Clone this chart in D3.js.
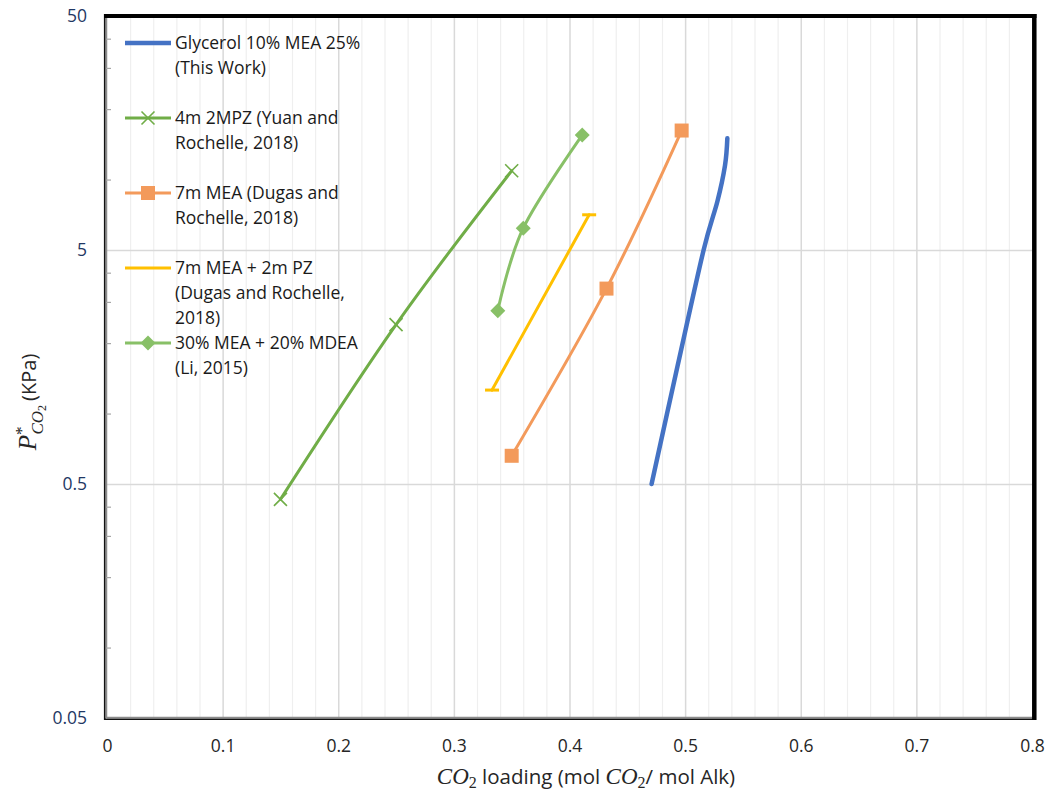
<!DOCTYPE html>
<html>
<head>
<meta charset="utf-8">
<script src="https://cdn.jsdelivr.net/npm/d3@7"></script>
<style>
  html, body { margin: 0; padding: 0; background: #fff; }
  svg { display: block; }
</style>
</head>
<body>
<svg id="chart" width="1052" height="800"></svg>
<script>
// CO2 loading (mol CO2 / mol alkalinity) and equilibrium CO2 partial pressure (kPa)
const glycerolLoading = [0.471, 0.4935, 0.516, 0.528, 0.5345, 0.5365];
const glycerolPressure = [0.5, 1.6, 5.0, 8.1, 11.5, 15.0];

const mpzLoading = [0.15, 0.25, 0.35];
const mpzPressure = [0.43, 2.4, 10.9];

const meaLoading = [0.35, 0.432, 0.497];
const meaPressure = [0.66, 3.42, 16.2];

const meaPzLoading = [0.333, 0.417];
const meaPzPressure = [1.26, 7.07];

const meaMdeaLoading = [0.338, 0.36, 0.411];
const meaMdeaPressure = [2.75, 6.2, 15.5];

const seriesNames = [
  ["Glycerol 10% MEA 25%", "(This Work)"],
  ["4m 2MPZ (Yuan and", "Rochelle, 2018)"],
  ["7m MEA (Dugas and", "Rochelle, 2018)"],
  ["7m MEA + 2m PZ", "(Dugas and Rochelle,", "2018)"],
  ["30% MEA + 20% MDEA", "(Li, 2015)"]
];

const xTicks = [0, 0.1, 0.2, 0.3, 0.4, 0.5, 0.6, 0.7, 0.8];
const xTickLabels = ["0", "0.1", "0.2", "0.3", "0.4", "0.5", "0.6", "0.7", "0.8"];
const yTicks = [0.05, 0.5, 5, 50];
const yTickLabels = ["0.05", "0.5", "5", "50"];
const yMinorTicks = [0.1, 0.2, 0.3, 0.4, 1, 2, 3, 4, 10, 20, 30, 40];

const series = [
  { x: glycerolLoading, y: glycerolPressure, color: "#4472C4", width: 4.5, marker: "none" },
  { x: mpzLoading, y: mpzPressure, color: "#70AD47", width: 3, marker: "x" },
  { x: meaLoading, y: meaPressure, color: "#F39A5B", width: 3, marker: "square" },
  { x: meaPzLoading, y: meaPzPressure, color: "#FFC000", width: 3, marker: "dash" },
  { x: meaMdeaLoading, y: meaMdeaPressure, color: "#88C067", width: 3, marker: "diamond" }
];

const svg = d3.select("#chart");
const L = 107, R = 1032, T = 16, B = 718;

const x = d3.scaleLinear().domain([0, 0.8]).range([L, R]);
const y = d3.scaleLog().domain([0.05, 50]).range([B, T]);

// vertical grid: light every 0.02, stronger every 0.1
const minorX = d3.range(1, 40).map(i => i * 0.02).filter(v => Math.abs(v * 10 - Math.round(v * 10)) > 1e-6);
svg.append("g")
  .attr("transform", `translate(0,${B})`)
  .call(d3.axisBottom(x).tickValues(minorX).tickSize(-(B - T)).tickFormat(""))
  .call(g => g.select(".domain").remove())
  .call(g => g.selectAll("line").attr("stroke", "#efefef").attr("stroke-width", 1.2));

svg.append("g")
  .attr("transform", `translate(0,${B})`)
  .call(d3.axisBottom(x).tickValues(xTicks.slice(1, -1)).tickSize(-(B - T)).tickFormat(""))
  .call(g => g.select(".domain").remove())
  .call(g => g.selectAll("line").attr("stroke", "#d9d9d9").attr("stroke-width", 1.5));

// horizontal grid at the decade marks
svg.append("g")
  .attr("transform", `translate(${L},0)`)
  .call(d3.axisLeft(y).tickValues(yTicks.slice(1, -1)).tickSize(-(R - L)).tickFormat(""))
  .call(g => g.select(".domain").remove())
  .call(g => g.selectAll("line").attr("stroke", "#d9d9d9").attr("stroke-width", 1.5));

// inner axis lines
svg.append("line").attr("x1", L - 0.5).attr("x2", L - 0.5).attr("y1", T).attr("y2", B)
  .attr("stroke", "#8c8c8c").attr("stroke-width", 1.5);
svg.append("line").attr("x1", L).attr("x2", R).attr("y1", B - 0.5).attr("y2", B - 0.5)
  .attr("stroke", "#8c8c8c").attr("stroke-width", 1.5);

// minor y tick marks
svg.append("g")
  .attr("transform", `translate(${L - 1},0)`)
  .call(d3.axisRight(y).tickValues(yMinorTicks).tickSize(5).tickFormat(""))
  .call(g => g.select(".domain").remove())
  .call(g => g.selectAll("line").attr("stroke", "#a6a6a6").attr("stroke-width", 1.2));

// frame
svg.append("line").attr("x1", 104.7).attr("x2", 104.7).attr("y1", 14).attr("y2", 720)
  .attr("stroke", "#111").attr("stroke-width", 1.6);
svg.append("line").attr("x1", 104).attr("x2", 1036).attr("y1", 719.3).attr("y2", 719.3)
  .attr("stroke", "#111").attr("stroke-width", 1.6);
svg.append("line").attr("x1", 104).attr("x2", 1036.5).attr("y1", 16).attr("y2", 16)
  .attr("stroke", "#000").attr("stroke-width", 4);
svg.append("line").attr("x1", 1034.3).attr("x2", 1034.3).attr("y1", 14).attr("y2", 720)
  .attr("stroke", "#000").attr("stroke-width", 4.5);

// tick labels
const tickFont = "'Open Sans', 'Noto Sans', sans-serif";
svg.append("g")
  .attr("transform", `translate(0,${B + 28})`)
  .call(d3.axisBottom(x).tickValues(xTicks).tickSize(0).tickFormat((d, i) => xTickLabels[i]))
  .call(g => g.select(".domain").remove())
  .call(g => g.selectAll("text")
    .attr("font-family", tickFont).attr("font-size", 17.5)
    .attr("fill", "#262626").attr("dy", "0.32em").attr("y", 0));

svg.append("g")
  .attr("transform", `translate(87,0)`)
  .call(d3.axisLeft(y).tickValues(yTicks).tickSize(0).tickFormat((d, i) => yTickLabels[i]))
  .call(g => g.select(".domain").remove())
  .call(g => g.selectAll("text")
    .attr("font-family", tickFont).attr("font-size", 17.5)
    .attr("fill", "#1F3864").attr("x", 0));

// series lines
const curve = d3.curveCardinal.tension(0);
const plot = svg.append("g");
series.forEach(s => {
  const pts = s.x.map((v, i) => [v, s.y[i]]);
  plot.append("path")
    .attr("d", d3.line().x(d => x(d[0])).y(d => y(d[1])).curve(curve)(pts))
    .attr("fill", "none")
    .attr("stroke", s.color)
    .attr("stroke-width", s.width)
    .attr("stroke-linecap", "round")
    .attr("stroke-linejoin", "round");
});

function drawMarker(g, type, cx, cy, color) {
  if (type === "x") {
    const h = 6.5;
    g.append("path")
      .attr("d", `M${cx - h},${cy - h}L${cx + h},${cy + h}M${cx - h},${cy + h}L${cx + h},${cy - h}`)
      .attr("stroke", color).attr("stroke-width", 1.6).attr("fill", "none");
  } else if (type === "square") {
    g.append("rect").attr("x", cx - 7).attr("y", cy - 7).attr("width", 14).attr("height", 14)
      .attr("fill", color);
  } else if (type === "diamond") {
    const h = 7.5;
    g.append("path")
      .attr("d", `M${cx},${cy - h}L${cx + h},${cy}L${cx},${cy + h}L${cx - h},${cy}Z`)
      .attr("fill", color);
  } else if (type === "dash") {
    g.append("rect").attr("x", cx - 7).attr("y", cy - 1.5).attr("width", 14).attr("height", 3)
      .attr("fill", color);
  }
}

series.forEach(s => {
  s.x.forEach((v, i) => drawMarker(plot, s.marker, x(v), y(s.y[i]), s.color));
});

// legend
const legend = svg.append("g");
seriesNames.forEach((lines, i) => {
  const s = series[i];
  const cy = 43 + i * 75;
  legend.append("line").attr("x1", 125).attr("x2", 171).attr("y1", cy).attr("y2", cy)
    .attr("stroke", s.color).attr("stroke-width", i === 0 ? 4.5 : 3);
  if (s.marker !== "dash") drawMarker(legend, s.marker, 148, cy, s.color);
  lines.forEach((t, j) => {
    legend.append("text")
      .attr("x", 175).attr("y", cy + j * 25)
      .attr("dy", "0.35em")
      .attr("font-family", tickFont).attr("font-size", 17.5)
      .attr("fill", "#1a1a1a")
      .text(t);
  });
});

// axis titles
const mathFont = "'Liberation Serif', 'DejaVu Serif', serif";
const xt = svg.append("text")
  .attr("x", 586).attr("y", 784)
  .attr("text-anchor", "middle")
  .attr("font-family", tickFont).attr("font-size", 20.5)
  .attr("fill", "#262626");
xt.append("tspan").attr("font-family", mathFont).attr("font-style", "italic").attr("font-size", 23).text("CO");
xt.append("tspan").attr("font-family", mathFont).attr("font-size", 16).attr("dy", 4).text("2");
xt.append("tspan").attr("dy", -4).text(" loading (mol ");
xt.append("tspan").attr("font-family", mathFont).attr("font-style", "italic").attr("font-size", 23).text("CO");
xt.append("tspan").attr("font-family", mathFont).attr("font-size", 16).attr("dy", 4).text("2");
xt.append("tspan").attr("dy", -4).text("/ mol Alk)");

const yt = svg.append("text")
  .attr("transform", "translate(36,402) rotate(-90)")
  .attr("text-anchor", "middle")
  .attr("font-family", tickFont).attr("font-size", 20)
  .attr("fill", "#262626");
yt.append("tspan").attr("font-family", mathFont).attr("font-style", "italic").attr("font-size", 25).text("P");
yt.append("tspan").attr("font-family", mathFont).attr("font-size", 17).attr("dy", -9).text("*");
yt.append("tspan").attr("font-family", mathFont).attr("font-style", "italic").attr("font-size", 17).attr("dx", -8).attr("dy", 16).text("CO");
yt.append("tspan").attr("font-family", mathFont).attr("font-size", 12).attr("dy", 3).text("2");
yt.append("tspan").attr("dx", 4).attr("dy", -10).text("(KPa)");
</script>
</body>
</html>
